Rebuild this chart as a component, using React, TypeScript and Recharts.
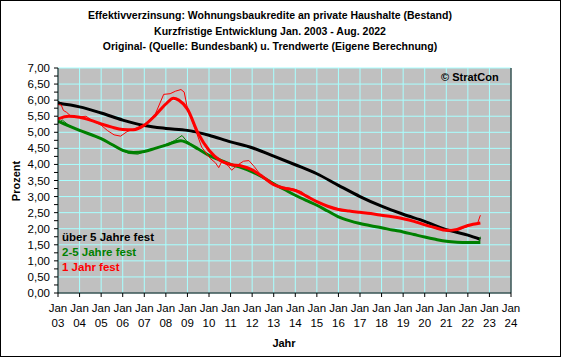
import React from "react";
import { LineChart, Line, XAxis, YAxis, CartesianGrid } from "recharts";

const titleLines = [
  "Effektivverzinsung: Wohnungsbaukredite an private Haushalte (Bestand)",
  "Kurzfristige Entwicklung Jan. 2003 - Aug. 2022",
  "Original- (Quelle: Bundesbank) u. Trendwerte (Eigene Berechnung)",
];
const legendLabels = ["über 5 Jahre fest", "2-5 Jahre fest", "1 Jahr fest"];
const xTickYears = [2003, 2004, 2005, 2006, 2007, 2008, 2009, 2010, 2011, 2012, 2013, 2014, 2015, 2016, 2017, 2018, 2019, 2020, 2021, 2022, 2023, 2024];
const xTickLabels = ["03", "04", "05", "06", "07", "08", "09", "10", "11", "12", "13", "14", "15", "16", "17", "18", "19", "20", "21", "22", "23", "24"];
const yTicks = [0, 0.25, 0.5, 0.75, 1, 1.25, 1.5, 1.75, 2, 2.25, 2.5, 2.75, 3, 3.25, 3.5, 3.75, 4, 4.25, 4.5, 4.75, 5, 5.25, 5.5, 5.75, 6, 6.25, 6.5, 6.75, 7];
const gridValues = [0, 0.5, 1, 1.5, 2, 2.5, 3, 3.5, 4, 4.5, 5, 5.5, 6, 6.5, 7];

// über 5 Jahre fest
const blackTrend: [number, number][] = [
  [2003, 5.9], [2004, 5.79], [2005, 5.6], [2006, 5.38], [2007, 5.21], [2008, 5.12], [2009, 5.06],
  [2010, 4.91], [2011, 4.7], [2012, 4.52], [2013, 4.26], [2014, 3.99], [2015, 3.71], [2016, 3.35],
  [2017, 3.0], [2018, 2.7], [2019, 2.45], [2020, 2.23], [2021, 1.97], [2022, 1.8], [2022.58, 1.67],
];
const blackOrig: [number, number][] = [
  [2003, 5.96], [2003.3, 5.87], [2004, 5.8], [2005, 5.61], [2006, 5.37], [2007, 5.2], [2008, 5.12],
  [2009, 5.05], [2010, 4.9], [2011, 4.7], [2012, 4.51], [2013, 4.25], [2014, 3.99], [2015, 3.7],
  [2016, 3.35], [2017, 3.0], [2018, 2.7], [2019, 2.45], [2020, 2.22], [2021, 1.96], [2022, 1.79],
  [2022.5, 1.68], [2022.58, 1.64],
];

// 2-5 Jahre fest
const greenTrend: [number, number][] = [
  [2003, 5.35], [2003.5, 5.2], [2004, 5.06], [2005, 4.8], [2005.5, 4.62], [2006, 4.44], [2006.5, 4.37],
  [2007, 4.4], [2007.5, 4.5], [2008, 4.6], [2008.7, 4.74], [2009, 4.67], [2009.5, 4.48], [2010, 4.28],
  [2010.5, 4.14], [2011, 4.0], [2011.5, 3.9], [2012, 3.77], [2012.5, 3.6], [2013, 3.4], [2013.5, 3.22],
  [2014, 3.04], [2014.5, 2.88], [2015, 2.73], [2015.5, 2.55], [2016, 2.37], [2016.5, 2.25], [2017, 2.16],
  [2017.5, 2.09], [2018, 2.03], [2018.5, 1.96], [2019, 1.9], [2019.5, 1.82], [2020, 1.74], [2020.5, 1.67],
  [2021, 1.61], [2021.5, 1.58], [2022, 1.57], [2022.58, 1.57],
];
const greenOrig: [number, number][] = [
  [2003, 5.28], [2003.2, 5.38], [2003.5, 5.22], [2004, 5.05], [2005, 4.79], [2005.5, 4.6], [2006, 4.42],
  [2006.3, 4.34], [2006.7, 4.32], [2007, 4.39], [2007.5, 4.5], [2008, 4.62], [2008.4, 4.74], [2008.75, 4.9],
  [2008.95, 4.74], [2009.2, 4.62], [2009.5, 4.47], [2010, 4.27], [2010.5, 4.12], [2011, 3.99], [2011.5, 3.9],
  [2012, 3.76], [2012.5, 3.58], [2013, 3.39], [2013.5, 3.21], [2014, 3.03], [2014.5, 2.87], [2015, 2.72],
  [2015.5, 2.55], [2016, 2.37], [2016.5, 2.25], [2017, 2.16], [2017.5, 2.09], [2018, 2.02], [2018.5, 1.96],
  [2019, 1.89], [2019.5, 1.82], [2020, 1.73], [2020.5, 1.66], [2021, 1.6], [2021.5, 1.57], [2022, 1.56],
  [2022.5, 1.56], [2022.58, 1.75],
];

// 1 Jahr fest
const redTrend: [number, number][] = [
  [2003, 5.42], [2003.5, 5.5], [2004, 5.47], [2004.5, 5.38], [2005, 5.26], [2005.5, 5.16], [2006, 5.09],
  [2006.5, 5.08], [2007, 5.22], [2007.5, 5.52], [2008, 5.88], [2008.35, 6.06], [2008.6, 6.0], [2009, 5.72],
  [2009.5, 4.96], [2010, 4.44], [2010.5, 4.13], [2011, 4.0], [2011.5, 3.95], [2012, 3.83], [2012.5, 3.61],
  [2013, 3.37], [2013.5, 3.26], [2014, 3.19], [2014.5, 3.02], [2015, 2.84], [2015.5, 2.7], [2016, 2.6],
  [2016.5, 2.55], [2017, 2.51], [2017.5, 2.47], [2018, 2.42], [2018.5, 2.37], [2019, 2.31], [2019.5, 2.23],
  [2020, 2.12], [2020.5, 2.03], [2021, 1.95], [2021.5, 1.98], [2022, 2.1], [2022.58, 2.18],
];
const redOrig: [number, number][] = [
  [2003, 5.86], [2003.15, 5.85], [2003.25, 5.68], [2003.4, 5.62], [2003.6, 5.5], [2004, 5.48], [2004.3, 5.5],
  [2004.6, 5.36], [2005, 5.22], [2005.3, 5.05], [2005.6, 4.92], [2005.9, 4.88], [2006.2, 5.02], [2006.5, 5.1],
  [2007, 5.24], [2007.5, 5.55], [2007.9, 6.18], [2008.2, 6.2], [2008.45, 6.28], [2008.7, 6.33], [2008.85, 6.25],
  [2009, 5.75], [2009.35, 5.12], [2009.66, 4.54], [2010.05, 4.19], [2010.3, 4.05], [2010.45, 3.9], [2010.6, 4.1],
  [2010.9, 3.95], [2011.05, 3.82], [2011.3, 3.97], [2011.6, 4.1], [2011.85, 4.12], [2012.1, 3.93], [2012.5, 3.58],
  [2013, 3.38], [2013.3, 3.3], [2013.6, 3.28], [2014, 3.22], [2014.3, 3.15], [2014.6, 2.98], [2015, 2.85],
  [2015.5, 2.7], [2016, 2.62], [2016.5, 2.55], [2017, 2.5], [2017.5, 2.46], [2018, 2.43], [2018.5, 2.36],
  [2019, 2.31], [2019.5, 2.24], [2020, 2.12], [2020.5, 2.02], [2021, 1.93], [2021.5, 1.94], [2022, 2.08],
  [2022.45, 2.17], [2022.58, 2.42],
];

const toPts = (arr: [number, number][]) => arr.map(([t, v]) => ({ t, v }));

const FONT = "'Liberation Sans', Arial, sans-serif";
const fmt = (v: number) => v.toFixed(2).replace(".", ",");
const isMajor = (v: number) => Math.abs(v * 2 - Math.round(v * 2)) < 1e-6;

const YTickLeft = (props: any) => {
  const { x, y, payload } = props;
  if (!isMajor(payload.value)) return <g />;
  return (
    <text x={x} y={y} textAnchor="end" dominantBaseline="central" fontFamily={FONT} fontSize={11.5} fill="#000">
      {fmt(payload.value)}
    </text>
  );
};
const YTickRight = (props: any) => {
  const { x, y, payload } = props;
  if (!isMajor(payload.value)) return <g />;
  return (
    <text x={x} y={y} textAnchor="start" dominantBaseline="central" fontFamily={FONT} fontSize={11.5} fill="#000">
      {fmt(payload.value)}
    </text>
  );
};
const XTick = (props: any) => {
  const { x, y, payload } = props;
  const idx = xTickYears.indexOf(payload.value);
  return (
    <g>
      <text x={x} y={y + 9} textAnchor="middle" dominantBaseline="central" fontFamily={FONT} fontSize={11.5} fill="#000">
        Jan
      </text>
      <text x={x} y={y + 24} textAnchor="middle" dominantBaseline="central" fontFamily={FONT} fontSize={11.5} fill="#000">
        {xTickLabels[idx]}
      </text>
    </g>
  );
};

export default function App() {
  return (
    <div style={{ position: "absolute", left: 0, top: 0, width: 563, height: 361, background: "#fff" }}>
      <LineChart width={563} height={361} margin={{ top: 68, right: 0, bottom: 0, left: 0 }}>
        <CartesianGrid
          xAxisId="x"
          yAxisId="left"
          fill="#c0c0c0"
          fillOpacity={1}
          stroke="#a8ffff"
          strokeWidth={1}
          horizontalValues={gridValues}
          verticalValues={xTickYears}
        />
        <XAxis
          xAxisId="x"
          dataKey="t"
          type="number"
          domain={[2003, 2024]}
          ticks={xTickYears}
          interval={0}
          height={68}
          tickSize={4}
          tick={<XTick />}
          axisLine={{ stroke: "#000" }}
          tickLine={{ stroke: "#000" }}
          allowDataOverflow
        />
        <YAxis
          yAxisId="left"
          type="number"
          domain={[0, 7]}
          ticks={yTicks}
          interval={0}
          width={58}
          tickSize={4}
          tickMargin={4}
          tick={<YTickLeft />}
          axisLine={{ stroke: "#000" }}
          tickLine={{ stroke: "#000" }}
        />
        <YAxis
          yAxisId="right"
          orientation="right"
          type="number"
          domain={[0, 7]}
          ticks={yTicks}
          interval={0}
          width={52}
          tickSize={4}
          tickMargin={3}
          tick={<YTickRight />}
          axisLine={{ stroke: "#000" }}
          tickLine={{ stroke: "#000" }}
        />
        <Line xAxisId="x" yAxisId="left" data={toPts(blackOrig)} dataKey="v" stroke="#000" strokeWidth={1} dot={false} isAnimationActive={false} type="linear" />
        <Line xAxisId="x" yAxisId="left" data={toPts(blackTrend)} dataKey="v" stroke="#000" strokeWidth={3} dot={false} isAnimationActive={false} type="monotone" />
        <Line xAxisId="x" yAxisId="left" data={toPts(greenOrig)} dataKey="v" stroke="#008000" strokeWidth={1} dot={false} isAnimationActive={false} type="linear" />
        <Line xAxisId="x" yAxisId="left" data={toPts(greenTrend)} dataKey="v" stroke="#008000" strokeWidth={3} dot={false} isAnimationActive={false} type="monotone" />
        <Line xAxisId="x" yAxisId="left" data={toPts(redOrig)} dataKey="v" stroke="#ff0000" strokeWidth={1} dot={false} isAnimationActive={false} type="linear" />
        <Line xAxisId="x" yAxisId="left" data={toPts(redTrend)} dataKey="v" stroke="#ff0000" strokeWidth={3} dot={false} isAnimationActive={false} type="monotone" />
      </LineChart>
      <svg width={563} height={361} style={{ position: "absolute", left: 0, top: 0, pointerEvents: "none" }}>
        <rect x={0.5} y={0.5} width={560} height={356} fill="none" stroke="#000" strokeWidth={1} />
        {titleLines.map((t, i) => (
          <text key={i} x={270} y={15 + i * 15.5} textAnchor="middle" dominantBaseline="central" fontFamily={FONT} fontWeight="bold" fontSize={10.5} fill="#000">
            {t}
          </text>
        ))}
        <text x={441} y={77} dominantBaseline="central" fontFamily={FONT} fontWeight="bold" fontSize={11} fill="#000">
          © StratCon
        </text>
        {legendLabels.map((t, i) => (
          <text key={i} x={62} y={237 + i * 15} dominantBaseline="central" fontFamily={FONT} fontWeight="bold" fontSize={11.5} fill={["#000", "#008000", "#ff0000"][i]}>
            {t}
          </text>
        ))}
        <text x={16} y={181} transform="rotate(-90 16 181)" textAnchor="middle" dominantBaseline="central" fontFamily={FONT} fontWeight="bold" fontSize={11} fill="#000">
          Prozent
        </text>
        <text x={284} y={343} textAnchor="middle" dominantBaseline="central" fontFamily={FONT} fontWeight="bold" fontSize={11} fill="#000">
          Jahr
        </text>
      </svg>
    </div>
  );
}
